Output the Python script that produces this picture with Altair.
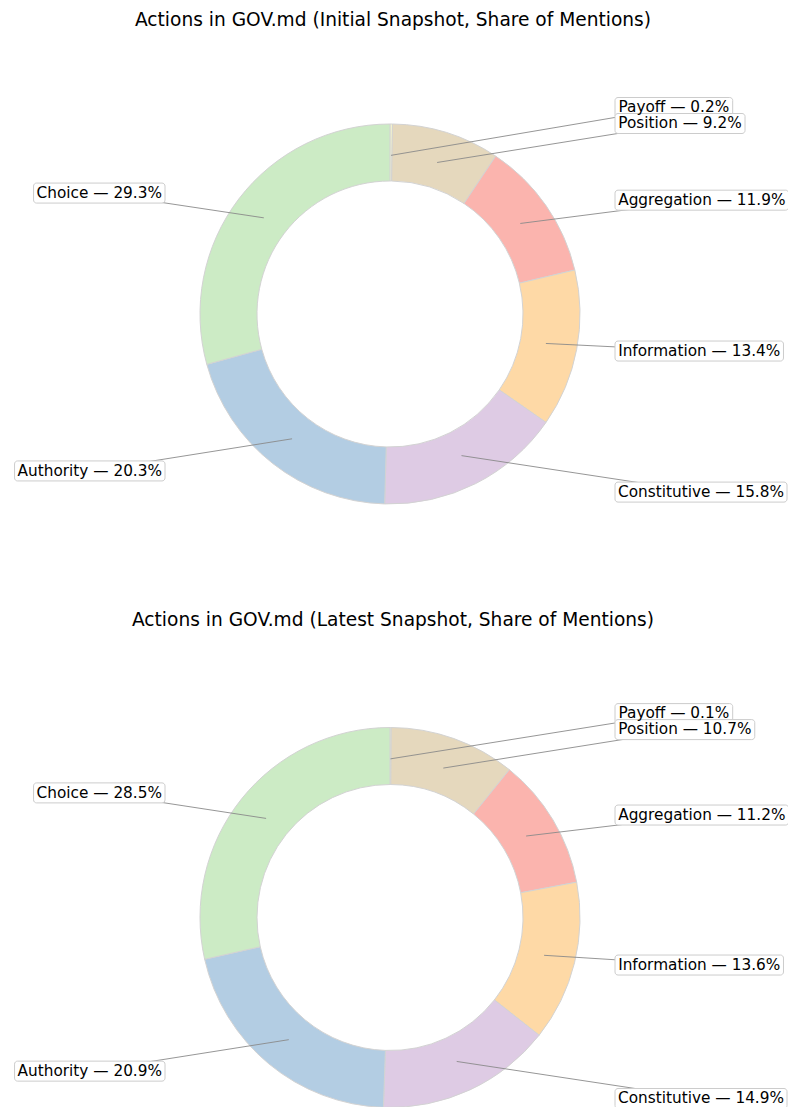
import math
import altair as alt
import pandas as pd

# ---------------- data ----------------
categories = ["Payoff", "Position", "Aggregation", "Information",
              "Constitutive", "Authority", "Choice"]
initial_share = [0.2, 9.2, 11.9, 13.4, 15.8, 20.3, 29.3]
latest_share = [0.1, 10.7, 11.2, 13.6, 14.9, 20.9, 28.5]
panel_titles = [
    "Actions in GOV.md (Initial Snapshot, Share of Mentions)",
    "Actions in GOV.md (Latest Snapshot, Share of Mentions)",
]

color_domain = ["Aggregation", "Authority", "Choice", "Constitutive",
                "Information", "Payoff", "Position"]
color_range = ["#fbb4ae", "#b3cde3", "#ccebc5", "#decbe4",
               "#fed9a6", "#ffffcc", "#e5d8bd"]

# ---------------- layout / style (pixels inside the chart) ----------------
W, H = 780, 1099
CX = 382                      # donut centre x
CYS = [306, 909.5]            # donut centre y for each snapshot
TITLE_BASE = 101.3 + 190      # title baseline sits this far above the centre
R_OUT, R_IN = 190, 133
R_ANCHOR = 0.835 * R_OUT
R_LABEL = 1.05 * R_OUT
LABEL_X = 225
MIN_GAP = 16
FS = 15.3
TITLE_FS = 18.6
FONT = "DejaVu Sans"

# DejaVu Sans advance widths (em) used to size the label boxes
CW = {" ": .318, "%": .950, ".": .318, "—": 1.0, "A": .684, "C": .698,
      "I": .295, "P": .603, "a": .613, "c": .550, "e": .615, "f": .352,
      "g": .635, "h": .634, "i": .278, "m": .974, "n": .634, "o": .612,
      "p": .635, "r": .411, "s": .521, "t": .392, "u": .634, "v": .592,
      "y": .592, "G": .775, "l": .278}
for d in "0123456789":
    CW[d] = .636


def text_width(s):
    return sum(CW.get(ch, .6) for ch in s) * FS


def arc_frame(values, cy, snap):
    return pd.DataFrame(dict(idx=list(range(len(categories))), cat=categories,
                             val=values, cx=CX, cy=cy, snap=snap))


def label_frame(values, cy, snap):
    total = sum(values)
    rows = []
    cum = 0.0
    for i, (c, v) in enumerate(zip(categories, values)):
        mid = cum + v / 2
        cum += v
        a = 2 * math.pi * mid / total
        rows.append(dict(snap=snap, cat=c, label=f"{c} — {v:.1f}%",
                         px=CX + R_ANCHOR * math.sin(a),
                         py=cy - R_ANCHOR * math.cos(a),
                         side=1 if math.sin(a) >= 0 else -1,
                         ly=cy - R_LABEL * math.cos(a)))
    # labels that would collide are pushed upward
    for side in (1, -1):
        grp = sorted([r for r in rows if r["side"] == side],
                     key=lambda r: -r["ly"])
        for k in range(1, len(grp)):
            if grp[k - 1]["ly"] - grp[k]["ly"] < MIN_GAP:
                grp[k]["ly"] = grp[k - 1]["ly"] - MIN_GAP
    for r in rows:
        bw = text_width(r["label"]) + 6
        if r["side"] == 1:
            r["bx1"], r["bx2"] = CX + LABEL_X, CX + LABEL_X + bw
        else:
            r["bx1"], r["bx2"] = CX - LABEL_X - bw, CX - LABEL_X
        r["bc"] = (r["bx1"] + r["bx2"]) / 2
        r["by1"], r["by2"] = r["ly"] - 10, r["ly"] + 10
    return pd.DataFrame(rows)


arcs_df = [arc_frame(v, cy, s) for v, cy, s in
           zip([initial_share, latest_share], CYS, ["initial", "latest"])]
labels_df = pd.concat([label_frame(v, cy, s) for v, cy, s in
                       zip([initial_share, latest_share], CYS,
                           ["initial", "latest"])], ignore_index=True)
# keep the title's full line box inside the drawing
titles_df = pd.DataFrame(dict(
    title=panel_titles, tx=[CX + 3, CX + 3],
    ty=[max(cy - TITLE_BASE, 0.95 * TITLE_FS) for cy in CYS]))

xs = alt.Scale(domain=[0, W], nice=False, zero=False)
ys = alt.Scale(domain=[0, H], nice=False, zero=False, reverse=True)
cs = alt.Scale(domain=color_domain, range=color_range)


def arc_layer(df):
    return alt.Chart(df).mark_arc(
        outerRadius=R_OUT, innerRadius=R_IN, stroke="#d3d3d3", strokeWidth=1
    ).encode(
        x=alt.X("cx:Q", scale=xs, axis=None),
        y=alt.Y("cy:Q", scale=ys, axis=None),
        theta=alt.Theta("val:Q", stack="normalize"),
        order=alt.Order("idx:Q"),
        color=alt.Color("cat:N", scale=cs, legend=None),
    )


lab = alt.Chart(labels_df)
rules = lab.mark_rule(color="#8a8a8a", strokeWidth=0.9).encode(
    x=alt.X("px:Q", scale=xs, axis=None),
    y=alt.Y("py:Q", scale=ys, axis=None),
    x2="bc:Q", y2="ly:Q",
)
boxes = lab.mark_rect(fill="white", stroke="#cccccc", strokeWidth=1,
                      cornerRadius=3).encode(
    x=alt.X("bx1:Q", scale=xs, axis=None), x2="bx2:Q",
    y=alt.Y("by1:Q", scale=ys, axis=None), y2="by2:Q",
)
texts = lab.mark_text(font=FONT, fontSize=FS, color="black", align="center",
                      baseline="alphabetic", dy=4.7).encode(
    x=alt.X("bc:Q", scale=xs, axis=None),
    y=alt.Y("ly:Q", scale=ys, axis=None),
    text="label:N",
)
titles = alt.Chart(titles_df).mark_text(
    font=FONT, fontSize=TITLE_FS, color="black", align="center",
    baseline="alphabetic").encode(
    x=alt.X("tx:Q", scale=xs, axis=None),
    y=alt.Y("ty:Q", scale=ys, axis=None),
    text="title:N",
)

chart = alt.layer(
    arc_layer(arcs_df[0]), arc_layer(arcs_df[1]), rules, boxes, texts, titles
).properties(
    width=W, height=H, padding=0,
    autosize=alt.AutoSizeParams(type="none"),
).configure_view(stroke=None)

chart.save("out.html", embed_options={"renderer": "svg", "actions": False})
